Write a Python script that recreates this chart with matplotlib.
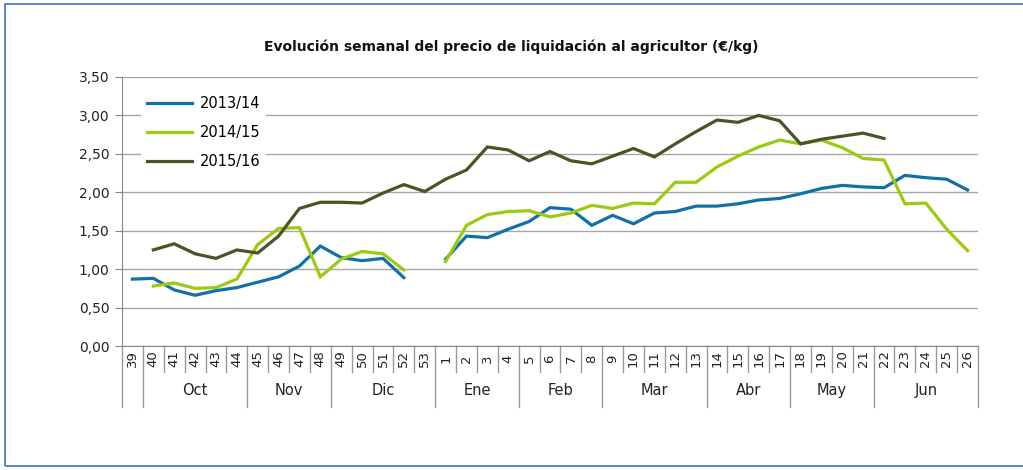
import matplotlib.pyplot as plt
import matplotlib.transforms as mtransforms
from matplotlib.patches import Rectangle
import numpy as np

nan = np.nan

weeks = list(range(39, 54)) + list(range(1, 27))
months = ["", "Oct", "Nov", "Dic", "Ene", "Feb", "Mar", "Abr", "May", "Jun"]
month_len = [1, 5, 4, 5, 4, 4, 5, 4, 4, 5]

s1314 = [0.87, 0.88, 0.73, 0.66, 0.72, 0.76, 0.83, 0.90, 1.04, 1.30, 1.15, 1.11, 1.14, 0.89, nan,
         1.13, 1.43, 1.41, 1.52, 1.62, 1.80, 1.78, 1.57, 1.70, 1.59, 1.73, 1.75, 1.82, 1.82,
         1.85, 1.90, 1.92, 1.98, 2.05, 2.09, 2.07, 2.06, 2.22, 2.19, 2.17, 2.03]
s1415 = [nan, 0.78, 0.82, 0.75, 0.76, 0.87, 1.32, 1.53, 1.54, 0.90, 1.13, 1.23, 1.20, 0.99, nan,
         1.10, 1.57, 1.71, 1.75, 1.76, 1.68, 1.73, 1.83, 1.79, 1.86, 1.85, 2.13, 2.13, 2.33,
         2.47, 2.59, 2.68, 2.63, 2.68, 2.58, 2.44, 2.42, 1.85, 1.86, 1.52, 1.24]
s1516 = [nan, 1.25, 1.33, 1.20, 1.14, 1.25, 1.21, 1.43, 1.79, 1.87, 1.87, 1.86, 1.99, 2.10, 2.01,
         2.17, 2.29, 2.59, 2.55, 2.41, 2.53, 2.41, 2.37, 2.47, 2.57, 2.46, 2.63, 2.79, 2.94,
         2.91, 3.00, 2.93, 2.63, 2.69, 2.73, 2.77, 2.70, nan, nan, nan, nan]

series = [("2013/14", s1314, "#1170a8"),
          ("2014/15", s1415, "#9bcb0c"),
          ("2015/16", s1516, "#4a5426")]

plt.rcParams["font.family"] = ["DejaVu Sans"]
fig = plt.figure(figsize=(10.23, 4.70), dpi=100)
ax = fig.add_axes([122/1023, 1 - 346/470, 856/1023, 269/470])

x = np.arange(len(weeks))
for name, vals, col in series:
    ax.plot(x, vals, color=col, lw=2.3, label=name, solid_joinstyle="miter")

ax.set_xlim(-0.5, len(weeks) - 0.5)
ax.set_ylim(0, 3.5)
ax.set_yticks(np.arange(0, 3.51, 0.5))
ax.set_yticklabels([f"{v:.2f}".replace(".", ",") for v in np.arange(0, 3.51, 0.5)], fontsize=10, color="#222222")
ax.yaxis.grid(True, color="#a6a6a6", lw=1)
ax.set_axisbelow(True)
ax.tick_params(axis="y", length=5, color="#888888", pad=4)
for s in ["top", "right"]:
    ax.spines[s].set_visible(False)
ax.spines["left"].set_color("#888888")
ax.spines["bottom"].set_color("#888888")

# category axis: weeks + months
ax.set_xticks([])
trans = mtransforms.blended_transform_factory(ax.transData, ax.transAxes)
for i, w in enumerate(weeks):
    ax.text(i, -0.048, str(w), rotation=90, ha="center", va="center",
            fontsize=9.5, color="#222222", transform=trans)

bounds = np.cumsum([0] + month_len) - 0.5
for b in np.arange(-0.5, len(weeks)):
    low = -0.227 if b in bounds else -0.097
    ax.plot([b, b], [0, low], color="#999999", lw=1, transform=trans, clip_on=False)

for m, start, n in zip(months, bounds[:-1], month_len):
    if m:
        ax.text(start + n / 2, -0.164, m, ha="center", va="center",
                fontsize=10.5, color="#222222", transform=trans)

leg = ax.legend(loc="upper left", bbox_to_anchor=(0.022, 0.95), fontsize=10.5,
                frameon=True, facecolor="white", edgecolor="none", framealpha=1,
                handlelength=3.1, handletextpad=0.55, labelspacing=0.95, borderaxespad=0)

fig.text(0.5, 0.9, "Evolución semanal del precio de liquidación al agricultor (€/kg)",
         ha="center", va="center", fontsize=10, fontweight="bold", color="#111111")

fig.patches.append(Rectangle((4.5/1023, 4/470), 1.1, 462/470, transform=fig.transFigure,
                             fill=False, edgecolor="#4f7fc0", lw=1.3))

fig.savefig("out.png", dpi=100)
